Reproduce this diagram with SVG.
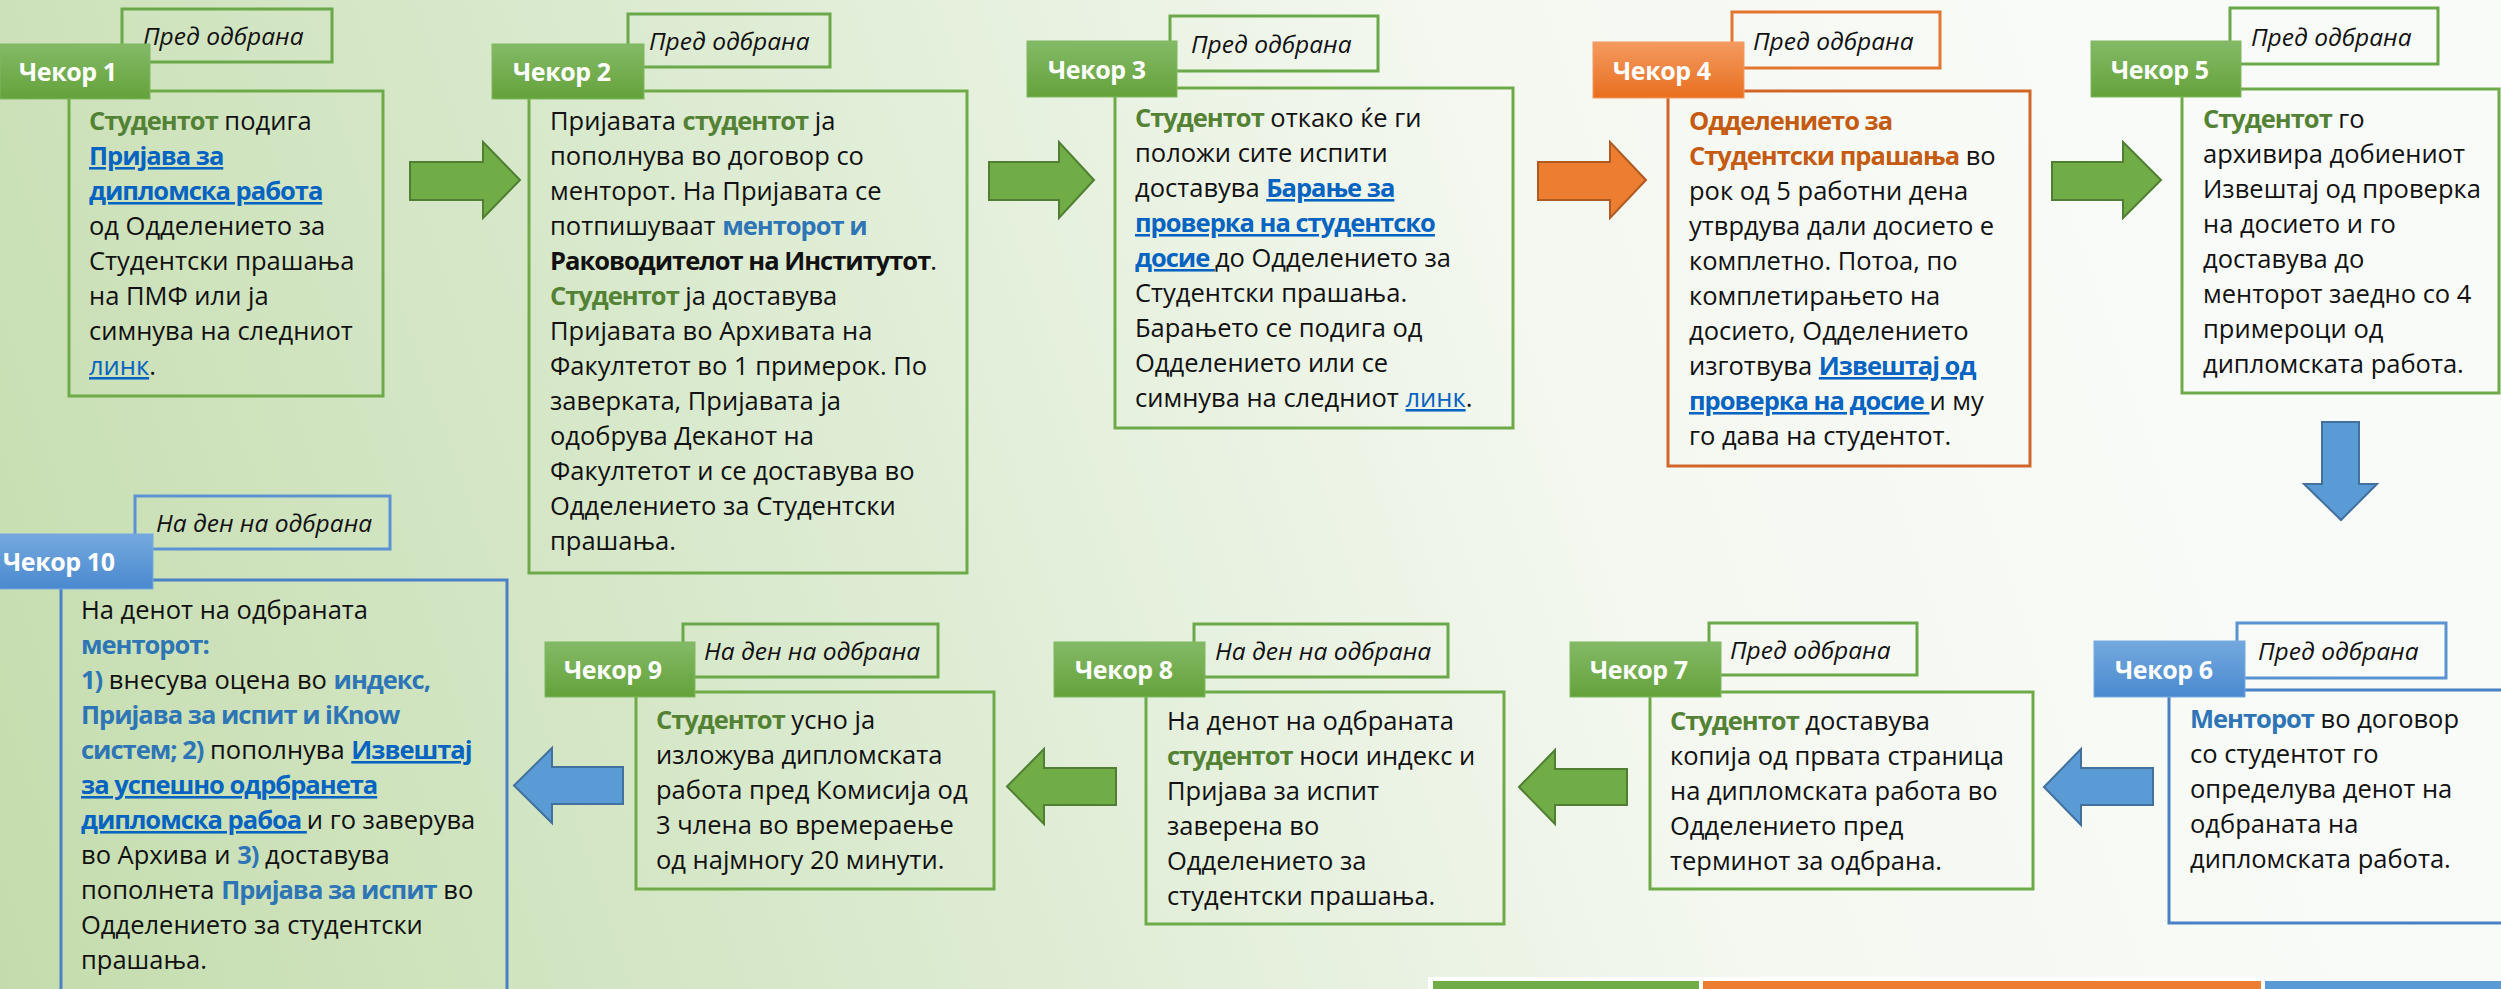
<svg xmlns="http://www.w3.org/2000/svg" width="2501" height="989" viewBox="0 0 2501 989">
<defs>
<linearGradient id="bg" gradientUnits="userSpaceOnUse" x1="0" y1="989" x2="2200" y2="250">
<stop offset="0" stop-color="#c4dcad"/>
<stop offset="0.4" stop-color="#dcebd1"/>
<stop offset="0.72" stop-color="#f4f8f0"/>
<stop offset="1" stop-color="#f9fbf8"/>
</linearGradient>
<linearGradient id="tg" x1="0" y1="0" x2="0" y2="1">
<stop offset="0" stop-color="#84ba67"/>
<stop offset="1" stop-color="#64a23a"/>
</linearGradient>
<linearGradient id="to" x1="0" y1="0" x2="0" y2="1">
<stop offset="0" stop-color="#f49a61"/>
<stop offset="1" stop-color="#e86f1e"/>
</linearGradient>
<linearGradient id="tb" x1="0" y1="0" x2="0" y2="1">
<stop offset="0" stop-color="#74a9de"/>
<stop offset="1" stop-color="#4a89cf"/>
</linearGradient>
<style>
text{font-family:"Open Sans","Noto Sans","DejaVu Sans",sans-serif}
.t{font-size:25.5px;fill:#111}
.g{fill:#548235;font-weight:700;letter-spacing:-1px}
.bl{fill:#2e75b6;font-weight:700;letter-spacing:-1px}
.or{fill:#c55a11;font-weight:700;letter-spacing:-1px}
.lk{fill:#0563c1;font-weight:700;letter-spacing:-1px;text-decoration:underline}
.lr{fill:#0563c1;text-decoration:underline}
.b{font-weight:700;letter-spacing:-1px}
.tab{font-size:25px;font-weight:700;fill:#fff;letter-spacing:-0.4px}
.note{font-size:24.5px;font-style:italic;fill:#111}
.bg{fill:none;stroke:#6eab48;stroke-width:3}
.bo{fill:none;stroke:#d2662a;stroke-width:3}
.bb{fill:none;stroke:#4a80c6;stroke-width:3}
.pg{fill:none;stroke:#6aa84a;stroke-width:3}
.po{fill:none;stroke:#e3772f;stroke-width:3}
.pb{fill:none;stroke:#5a92d2;stroke-width:3}
.tgr{fill:url(#tg);stroke:#7fb860;stroke-width:1}
.tor{fill:url(#to);stroke:#f39a60;stroke-width:1}
.tbl{fill:url(#tb);stroke:#76aadf;stroke-width:1}
.ag{fill:#70ad47;stroke:#507e32;stroke-width:2}
.ao{fill:#ed7d31;stroke:#ae5a21;stroke-width:2}
.ab{fill:#5b9bd5;stroke:#41719c;stroke-width:2}
</style>
</defs>
<rect x="0" y="0" width="2501" height="989" fill="url(#bg)"/>

<g id="connectors">
<polygon class="ag" points="410,162 483,162 483,142 520,180 483,218 483,200 410,200"/>
<polygon class="ag" points="989,162 1059,162 1059,142 1094,180 1059,218 1059,200 989,200"/>
<polygon class="ao" points="1538,162 1610,162 1610,142 1646,180 1610,218 1610,200 1538,200"/>
<polygon class="ag" points="2052,162 2123,162 2123,142 2161,180 2123,218 2123,200 2052,200"/>
<polygon class="ab" points="2322,422 2359,422 2359,484 2377,484 2341,520 2304,484 2322,484"/>
<polygon class="ab" points="2044,787 2081,749 2081,768 2153,768 2153,805 2081,805 2081,825"/>
<polygon class="ag" points="1519,787 1555,750 1555,769 1627,769 1627,805 1555,805 1555,824"/>
<polygon class="ag" points="1007,786.5 1044,749 1044,768 1116,768 1116,805 1044,805 1044,824"/>
<polygon class="ab" points="514,785.5 552,748 552,767 623,767 623,804 552,804 552,823"/>
</g>

<g id="step1">
<rect class="pg" x="122" y="9" width="210" height="53"/>
<text class="note" x="143" y="45">Пред одбрана</text>
<rect class="bg" x="69" y="91" width="314" height="305"/>
<rect class="tgr" x="0" y="44" width="150" height="55"/>
<text class="tab" x="19" y="81">Чекор 1</text>
<text class="t">
<tspan x="89" y="130"><tspan class="g">Студентот</tspan> подига</tspan>
<tspan x="89" y="165" class="lk">Пријава за</tspan>
<tspan x="89" y="200" class="lk">дипломска работа</tspan>
<tspan x="89" y="235">од Одделението за</tspan>
<tspan x="89" y="270">Студентски прашања</tspan>
<tspan x="89" y="305">на ПМФ или ја</tspan>
<tspan x="89" y="340">симнува на следниот</tspan>
<tspan x="89" y="375"><tspan class="lr">линк</tspan>.</tspan>
</text>
</g>

<g id="step2">
<rect class="pg" x="628" y="14" width="202" height="53"/>
<text class="note" x="649" y="50">Пред одбрана</text>
<rect class="bg" x="529" y="91" width="438" height="482"/>
<rect class="tgr" x="492" y="44" width="152" height="55"/>
<text class="tab" x="513" y="81">Чекор 2</text>
<text class="t">
<tspan x="550" y="130">Пријавата <tspan class="g">студентот</tspan> ја</tspan>
<tspan x="550" y="165">пополнува во договор со</tspan>
<tspan x="550" y="200">менторот. На Пријавата се</tspan>
<tspan x="550" y="235">потпишуваат <tspan class="bl">менторот и</tspan></tspan>
<tspan x="550" y="270"><tspan class="b">Раководителот на Институтот</tspan>.</tspan>
<tspan x="550" y="305"><tspan class="g">Студентот</tspan> ја доставува</tspan>
<tspan x="550" y="340">Пријавата во Архивата на</tspan>
<tspan x="550" y="375">Факултетот во 1 примерок. По</tspan>
<tspan x="550" y="410">заверката, Пријавата ја</tspan>
<tspan x="550" y="445">одобрува Деканот на</tspan>
<tspan x="550" y="480">Факултетот и се доставува во</tspan>
<tspan x="550" y="515">Одделението за Студентски</tspan>
<tspan x="550" y="550">прашања.</tspan>
</text>
</g>

<g id="step3">
<rect class="pg" x="1170" y="16" width="208" height="55"/>
<text class="note" x="1191" y="53">Пред одбрана</text>
<rect class="bg" x="1115" y="88" width="398" height="340"/>
<rect class="tgr" x="1027" y="41" width="150" height="56"/>
<text class="tab" x="1048" y="78.5">Чекор 3</text>
<text class="t">
<tspan x="1135" y="127"><tspan class="g">Студентот</tspan> откако ќе ги</tspan>
<tspan x="1135" y="162">положи сите испити</tspan>
<tspan x="1135" y="197">доставува <tspan class="lk">Барање за</tspan></tspan>
<tspan x="1135" y="232" class="lk">проверка на студентско</tspan>
<tspan x="1135" y="267"><tspan class="lk">досие </tspan>до Одделението за</tspan>
<tspan x="1135" y="302">Студентски прашања.</tspan>
<tspan x="1135" y="337">Барањето се подига од</tspan>
<tspan x="1135" y="372">Одделението или се</tspan>
<tspan x="1135" y="407">симнува на следниот <tspan class="lr">линк</tspan>.</tspan>
</text>
</g>

<g id="step4">
<rect class="po" x="1732" y="12" width="208" height="56"/>
<text class="note" x="1753" y="49.5">Пред одбрана</text>
<rect class="bo" x="1668" y="91" width="362" height="375"/>
<rect class="tor" x="1593" y="42" width="151" height="56"/>
<text class="tab" x="1613" y="79.5">Чекор 4</text>
<text class="t">
<tspan x="1689" y="130" class="or">Одделението за</tspan>
<tspan x="1689" y="165"><tspan class="or">Студентски прашања</tspan> во</tspan>
<tspan x="1689" y="200">рок од 5 работни дена</tspan>
<tspan x="1689" y="235">утврдува дали досието е</tspan>
<tspan x="1689" y="270">комплетно. Потоа, по</tspan>
<tspan x="1689" y="305">комплетирањето на</tspan>
<tspan x="1689" y="340">досието, Одделението</tspan>
<tspan x="1689" y="375">изготвува <tspan class="lk">Извештај од</tspan></tspan>
<tspan x="1689" y="410"><tspan class="lk">проверка на досие </tspan>и му</tspan>
<tspan x="1689" y="445">го дава на студентот.</tspan>
</text>
</g>

<g id="step5">
<rect class="pg" x="2230" y="8" width="208" height="56"/>
<text class="note" x="2251" y="45.5">Пред одбрана</text>
<rect class="bg" x="2182" y="89" width="317" height="304"/>
<rect class="tgr" x="2091" y="41" width="150" height="56"/>
<text class="tab" x="2111" y="78.5">Чекор 5</text>
<text class="t">
<tspan x="2203" y="128"><tspan class="g">Студентот</tspan> го</tspan>
<tspan x="2203" y="163">архивира добиениот</tspan>
<tspan x="2203" y="198">Извештај од проверка</tspan>
<tspan x="2203" y="233">на досието и го</tspan>
<tspan x="2203" y="268">доставува до</tspan>
<tspan x="2203" y="303">менторот заедно со 4</tspan>
<tspan x="2203" y="338">примероци од</tspan>
<tspan x="2203" y="373">дипломската работа.</tspan>
</text>
</g>

<g id="step6">
<rect class="pb" x="2237" y="623" width="209" height="55"/>
<text class="note" x="2258" y="660">Пред одбрана</text>
<rect class="bb" x="2169" y="690" width="340" height="233"/>
<rect class="tbl" x="2094" y="641" width="151" height="56"/>
<text class="tab" x="2115" y="678.5">Чекор 6</text>
<text class="t">
<tspan x="2190" y="728"><tspan class="bl">Менторот</tspan> во договор</tspan>
<tspan x="2190" y="763">со студентот го</tspan>
<tspan x="2190" y="798">определува денот на</tspan>
<tspan x="2190" y="833">одбраната на</tspan>
<tspan x="2190" y="868">дипломската работа.</tspan>
</text>
</g>

<g id="step7">
<rect class="pg" x="1709" y="623" width="208" height="52"/>
<text class="note" x="1730" y="658.5">Пред одбрана</text>
<rect class="bg" x="1650" y="692" width="383" height="197"/>
<rect class="tgr" x="1570" y="642" width="151" height="55"/>
<text class="tab" x="1590" y="679">Чекор 7</text>
<text class="t">
<tspan x="1670" y="730"><tspan class="g">Студентот</tspan> доставува</tspan>
<tspan x="1670" y="765">копија од првата страница</tspan>
<tspan x="1670" y="800">на дипломската работа во</tspan>
<tspan x="1670" y="835">Одделението пред</tspan>
<tspan x="1670" y="870">терминот за одбрана.</tspan>
</text>
</g>

<g id="step8">
<rect class="pg" x="1194" y="624" width="254" height="53"/>
<text class="note" x="1215" y="660">На ден на одбрана</text>
<rect class="bg" x="1146" y="692" width="358" height="232"/>
<rect class="tgr" x="1054" y="642" width="151" height="55"/>
<text class="tab" x="1075" y="679">Чекор 8</text>
<text class="t">
<tspan x="1167" y="730">На денот на одбраната</tspan>
<tspan x="1167" y="765"><tspan class="g">студентот</tspan> носи индекс и</tspan>
<tspan x="1167" y="800">Пријава за испит</tspan>
<tspan x="1167" y="835">заверена во</tspan>
<tspan x="1167" y="870">Одделението за</tspan>
<tspan x="1167" y="905">студентски прашања.</tspan>
</text>
</g>

<g id="step9">
<rect class="pg" x="683" y="624" width="255" height="53"/>
<text class="note" x="704" y="660">На ден на одбрана</text>
<rect class="bg" x="636" y="692" width="358" height="197"/>
<rect class="tgr" x="545" y="642" width="150" height="55"/>
<text class="tab" x="564" y="679">Чекор 9</text>
<text class="t">
<tspan x="656" y="729"><tspan class="g">Студентот</tspan> усно ја</tspan>
<tspan x="656" y="764">изложува дипломската</tspan>
<tspan x="656" y="799">работа пред Комисија од</tspan>
<tspan x="656" y="834">3 члена во времераење</tspan>
<tspan x="656" y="869">од најмногу 20 минути.</tspan>
</text>
</g>

<g id="step10">
<rect class="pb" x="135" y="496" width="255" height="53"/>
<text class="note" x="156" y="532">На ден на одбрана</text>
<rect class="bb" x="61" y="580" width="446" height="420"/>
<rect class="tbl" x="-20" y="534" width="173" height="55"/>
<text class="tab" x="3" y="571">Чекор 10</text>
<text class="t">
<tspan x="81" y="619">На денот на одбраната</tspan>
<tspan x="81" y="654" class="bl">менторот:</tspan>
<tspan x="81" y="689"><tspan class="bl">1)</tspan> внесува оцена во <tspan class="bl">индекс,</tspan></tspan>
<tspan x="81" y="724" class="bl">Пријава за испит и iKnow</tspan>
<tspan x="81" y="759"><tspan class="bl">систем; 2)</tspan> пополнува <tspan class="lk">Извештај</tspan></tspan>
<tspan x="81" y="794" class="lk">за успешно одрбранета</tspan>
<tspan x="81" y="829"><tspan class="lk">дипломска рабоа </tspan>и го заверува</tspan>
<tspan x="81" y="864">во Архива и <tspan class="bl">3)</tspan> доставува</tspan>
<tspan x="81" y="899">пополнета <tspan class="bl">Пријава за испит</tspan> во</tspan>
<tspan x="81" y="934">Одделението за студентски</tspan>
<tspan x="81" y="969">прашања.</tspan>
</text>
</g>

<g id="legend">
<rect x="1428" y="977" width="1080" height="20" fill="#ffffff"/>
<rect x="1433" y="981" width="266" height="12" fill="#70ad47"/>
<rect x="1703" y="981" width="558" height="12" fill="#ed7d31"/>
<rect x="2265" y="981" width="240" height="12" fill="#5b9bd5"/>
</g>
</svg>
